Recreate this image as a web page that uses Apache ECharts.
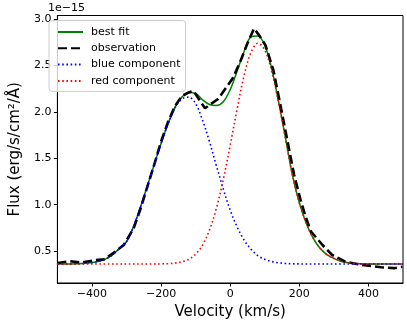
<!DOCTYPE html>
<html>
<head>
<meta charset="utf-8">
<script src="https://cdn.jsdelivr.net/npm/echarts@6/dist/echarts.min.js"></script>
<style>
  html, body { margin: 0; padding: 0; background: #fff; }
  #main { width: 407px; height: 326px; }
</style>
</head>
<body>
<div id="main"></div>
<script>
// velocity grid (km/s) for the fit and the two components
var vel = [-500,-480,-460,-440,-420,-400,-380,-360,-340,-320,-300,-280,-260,-240,-220,-200,-180,-160,-140,-120,
           -100,-80,-60,-40,-20,0,20,40,60,80,100,120,140,160,180,200,220,240,260,280,300,320,340,360,380,400,
           420,440,460,480,500];
// flux in units of 1e-15 erg/s/cm2/A
var bestFit = [0.36,0.36,0.361,0.363,0.367,0.375,0.39,0.415,0.46,0.53,0.60,0.76,0.97,1.20,1.43,1.66,1.87,2.05,2.16,2.21,
               2.20,2.13,2.08,2.07,2.11,2.24,2.44,2.65,2.81,2.82,2.72,2.47,2.11,1.72,1.32,1.02,0.80,0.64,0.53,0.46,0.42,
               0.39,0.375,0.366,0.362,0.36,0.36,0.36,0.36,0.36,0.36];
var blueComp = [0.36,0.36,0.361,0.363,0.367,0.375,0.39,0.415,0.46,0.53,0.60,0.76,0.97,1.20,1.43,1.66,1.87,2.04,2.14,2.16,
                2.09,1.91,1.68,1.42,1.17,0.94,0.76,0.62,0.52,0.45,0.41,0.387,0.373,0.366,0.362,0.361,0.36,0.36,0.36,0.36,
                0.36,0.36,0.36,0.36,0.36,0.36,0.36,0.36,0.36,0.36,0.36];
var redComp = [0.36,0.36,0.36,0.36,0.36,0.36,0.36,0.36,0.36,0.36,0.36,0.36,0.36,0.36,0.36,0.361,0.364,0.37,0.383,0.41,
               0.465,0.565,0.725,0.96,1.27,1.64,2.03,2.39,2.64,2.74,2.67,2.44,2.10,1.71,1.32,1.02,0.80,0.64,0.53,0.46,
               0.42,0.39,0.375,0.366,0.362,0.36,0.36,0.36,0.36,0.36,0.36];
// observed spectrum, its own sampling
var obsVel = [-500,-464,-431,-393,-365,-337,-308,-280,-260,-240,-220,-200,-180,-160,-140,-120,-106,-73,-35,7,
              31,50,69,85,102,125,145,165,185,205,220,234,250,267,295,333,380,437,474,498];
var obsFlux = [0.37,0.39,0.375,0.40,0.41,0.48,0.565,0.74,0.95,1.19,1.43,1.68,1.89,2.06,2.17,2.21,2.225,2.04,2.14,2.36,
               2.56,2.74,2.90,2.82,2.72,2.45,2.08,1.70,1.32,1.03,0.85,0.71,0.64,0.565,0.457,0.385,0.35,0.325,0.315,0.33];
var xTicks = [-400,-200,0,200,400];
var yTicks = [0.5,1.0,1.5,2.0,2.5,3.0];

function pairs(xs, ys) {
    return xs.map(function (x, i) { return [x, ys[i]]; });
}

var font = 'DejaVu Sans';
var myChart = echarts.init(document.getElementById('main'), null, {renderer: 'canvas'});

var option = {
    backgroundColor: '#fff',
    animation: false,
    grid: {
        left: 48, right: 4, top: 15.5, bottom: 43,
        show: true, borderColor: '#000', borderWidth: 1, backgroundColor: 'transparent'
    },
    legend: {
        orient: 'vertical',
        left: 49, top: 20.5,
        data: ['best fit', 'observation', 'blue component', 'red component'],
        itemWidth: 25, itemHeight: 11, itemGap: 5.3,
        padding: [6, 5, 5, 8],
        itemStyle: {opacity: 0},
        backgroundColor: 'rgba(255,255,255,0.8)',
        borderColor: '#cccccc', borderWidth: 1, borderRadius: 3,
        textStyle: {fontFamily: font, fontSize: 11, color: '#000', padding: [0, 0, 0, 3]}
    },
    xAxis: {
        type: 'value', min: -500, max: 500,
        name: 'Velocity (km/s)', nameLocation: 'middle', nameGap: 19,
        nameTextStyle: {fontFamily: font, fontSize: 15, color: '#000'},
        axisLine: {show: true, onZero: false, lineStyle: {color: '#000', width: 1}},
        axisTick: {show: true, length: 3.5, lineStyle: {color: '#000'}, customValues: xTicks},
        axisLabel: {
            fontFamily: font, fontSize: 11, color: '#000', margin: 6, customValues: xTicks,
            formatter: function (v) { return v < 0 ? '\u2212' + Math.abs(v) : String(v); }
        },
        splitLine: {show: false}
    },
    yAxis: {
        type: 'value', min: 0.155, max: 3.04,
        name: 'Flux (erg/s/cm\u00b2/\u00c5)', nameLocation: 'middle', nameGap: 29,
        nameTextStyle: {fontFamily: font, fontSize: 15, color: '#000'},
        axisLine: {show: true, onZero: false, lineStyle: {color: '#000', width: 1}},
        axisTick: {show: true, length: 3.5, lineStyle: {color: '#000'}, customValues: yTicks},
        axisLabel: {
            fontFamily: font, fontSize: 11, color: '#000', margin: 6, customValues: yTicks,
            formatter: function (v) { return v.toFixed(1); }
        },
        splitLine: {show: false}
    },
    graphic: [
        {type: 'text', left: 48, top: 3, style: {text: '1e\u221215', font: '11px "DejaVu Sans"', fill: '#000'}}
    ],
    series: [
        {
            name: 'best fit', type: 'line', data: pairs(vel, bestFit), smooth: 0.35,
            showSymbol: false, symbol: 'none',
            lineStyle: {color: '#008000', width: 1.5}, itemStyle: {color: '#008000'}
        },
        {
            name: 'observation', type: 'line', data: pairs(obsVel, obsFlux),
            showSymbol: false, symbol: 'none',
            lineStyle: {color: '#000', width: 2.6, type: [9, 4], cap: 'butt'}, itemStyle: {color: '#000'}
        },
        {
            name: 'blue component', type: 'line', data: pairs(vel, blueComp), smooth: 0.35,
            showSymbol: false, symbol: 'none',
            lineStyle: {color: '#0000ff', width: 1.6, type: [1.6, 2.6], cap: 'butt'}, itemStyle: {color: '#0000ff'}
        },
        {
            name: 'red component', type: 'line', data: pairs(vel, redComp), smooth: 0.35,
            showSymbol: false, symbol: 'none',
            lineStyle: {color: '#ff0000', width: 1.6, type: [1.6, 2.6], cap: 'butt'}, itemStyle: {color: '#ff0000'}
        }
    ]
};
myChart.setOption(option);
</script>
</body>
</html>
